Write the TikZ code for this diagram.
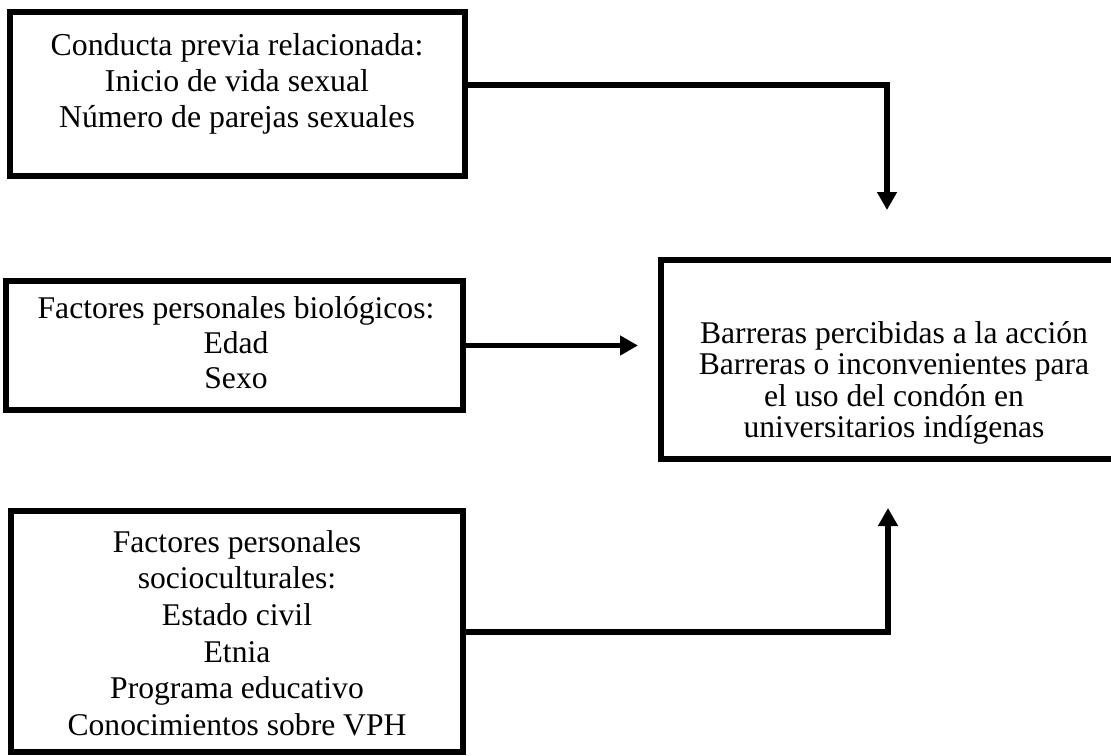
\documentclass[tikz,border=0pt]{standalone}
\usepackage{fontspec}
\setmainfont{Liberation Serif}
\usetikzlibrary{arrows.meta}

\tikzset{
  framebox/.style={draw=black, line width=6.5pt, minimum width=#1, inner sep=0pt},
  boxtext/.style={align=center, inner sep=0pt, font=\fontsize{31.6}{35}\selectfont},
  flow/.style={line width=5.5pt, -{Triangle[width=19pt,length=18pt]}},
}

\begin{document}
\begin{tikzpicture}[x=1pt, y=-1pt]
  \useasboundingbox (0,0) rectangle (1111,755);
  \begin{scope}
    \clip (0,0) rectangle (1111,755);

    % input boxes on the left
    \node[framebox=455pt, minimum height=164pt] (prev) at (237.5,94) {};
    \node[framebox=457pt, minimum height=129pt] (bio)  at (234.5,345.5) {};
    \node[framebox=452pt, minimum height=241pt] (soc)  at (237,631.5) {};
    % outcome box, its right side runs past the page edge
    \node[framebox=460pt, minimum height=199pt] (bar)  at (891,359.5) {};

    % texts
    \node[boxtext, font=\fontsize{31.8}{36}\selectfont] (prevtxt) at (237,84)
      {Conducta previa relacionada:\\Inicio de vida sexual\\Número de parejas sexuales};
    \node[boxtext] (biotxt) at (236,343)
      {Factores personales biológicos:\\Edad\\Sexo};
    \node[boxtext, font=\fontsize{31.6}{36.6}\selectfont] (soctxt) at (237,633)
      {Factores personales\\socioculturales:\\Estado civil\\Etnia\\Programa educativo\\Conocimientos sobre VPH};
    \node[boxtext, font=\fontsize{31.6}{31.5}\selectfont] (bartxt) at (894,383)
      {Barreras percibidas a la acción\\Barreras o inconvenientes para\\el uso del condón en\\universitarios indígenas};

    % free ends of the connectors
    \coordinate (tipA) at (887,210);
    \coordinate (tipB) at (638,345.5);
    \coordinate (tipC) at (888,508);

    % connectors
    \draw[flow] (prev.east |- 0,85) -| (tipA);
    \draw[flow] (bio.east) -- (tipB);
    \draw[flow] (soc.east |- 0,632) -| (tipC);
  \end{scope}
\end{tikzpicture}
\end{document}
